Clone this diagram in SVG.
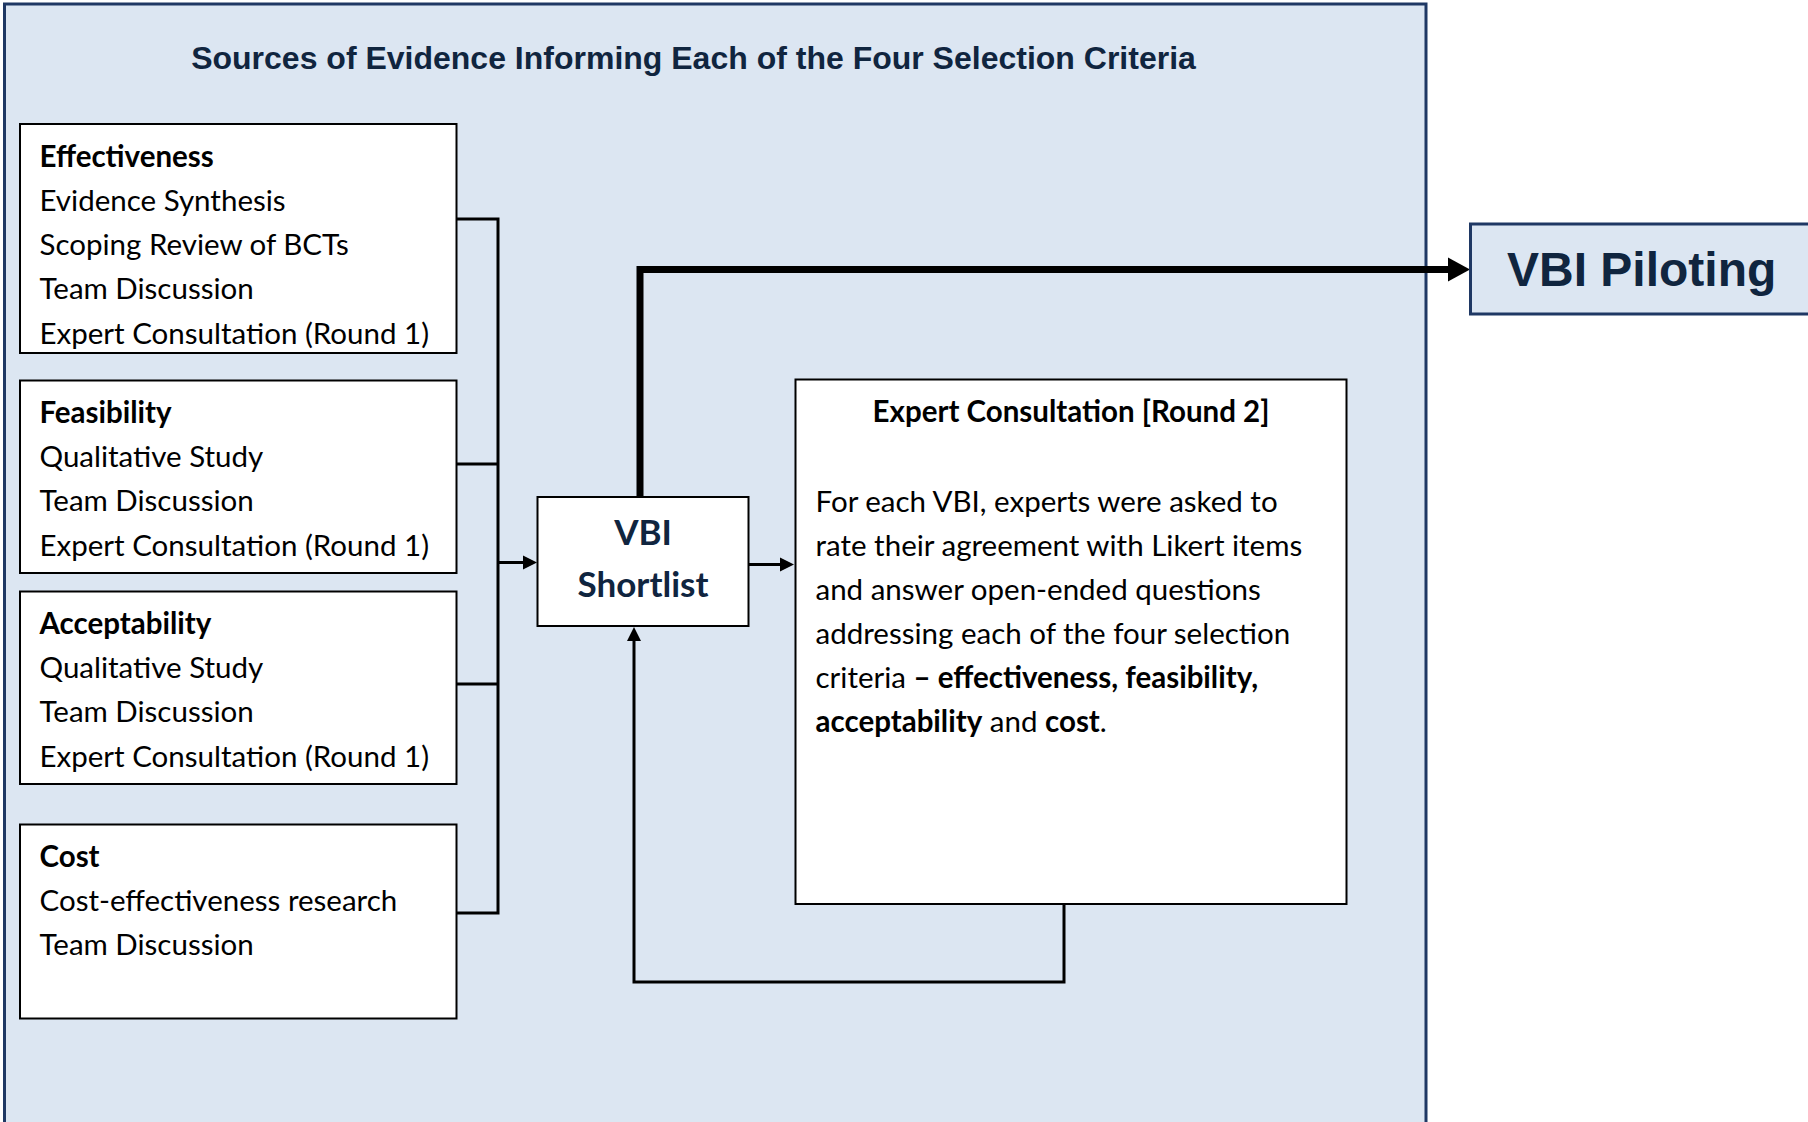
<svg xmlns="http://www.w3.org/2000/svg" width="1808" height="1122" viewBox="0 0 1808 1122">
<defs>
<style>
.panel{fill:#DCE6F2;stroke:#1F3864;stroke-width:3}
.box{fill:#FFFFFF;stroke:#000;stroke-width:2}
.t{font-family:Lato,"Open Sans","Liberation Sans",sans-serif;font-size:29.5px;fill:#000}
.b{font-weight:bold}
.navy{fill:#10253F}
.hd{font-family:"Liberation Sans",Arial,sans-serif;font-weight:bold;fill:#10253F}
.conn{fill:none;stroke:#000;stroke-width:3;stroke-linejoin:miter}
.thick{stroke-width:7}
</style>
<marker id="arr" markerUnits="userSpaceOnUse" markerWidth="14" markerHeight="14" refX="0" refY="7" orient="auto" overflow="visible">
<path d="M0,0 L14,7 L0,14 Z" fill="#000"/>
</marker>
<marker id="arrBig" markerUnits="userSpaceOnUse" markerWidth="22" markerHeight="24" refX="0" refY="12" orient="auto" overflow="visible">
<path d="M0,0 L22,12 L0,24 Z" fill="#000"/>
</marker>
</defs>

<rect class="panel" x="4.5" y="4" width="1421.5" height="1140"/>
<text class="hd" x="693.5" y="69" font-size="32" text-anchor="middle">Sources of Evidence Informing Each of the Four Selection Criteria</text>

<g id="connectors">
<path class="conn" d="M456,219 H498 V913 H456"/>
<path class="conn" d="M456,464 H498"/>
<path class="conn" d="M456,684 H498"/>
<path class="conn" d="M498,562.5 H523" marker-end="url(#arr)"/>
<path class="conn" d="M748,564.5 H780" marker-end="url(#arr)"/>
<path class="conn" d="M1064,904 V982 H634 V641" marker-end="url(#arr)"/>
<path class="conn thick" d="M640,497 V269.5 H1448" marker-end="url(#arrBig)"/>
</g>

<g id="effectiveness">
<rect class="box" x="20" y="124" width="436.5" height="229"/>
<text class="t b" x="39.5" y="167">Effectiveness</text>
<text class="t" x="39.5" y="211">Evidence Synthesis</text>
<text class="t" x="39.5" y="255">Scoping Review of BCTs</text>
<text class="t" x="39.5" y="299">Team Discussion</text>
<text class="t" x="39.5" y="344">Expert Consultation (Round 1)</text>
</g>

<g id="feasibility">
<rect class="box" x="20" y="380.5" width="436.5" height="192.5"/>
<text class="t b" x="39.5" y="423">Feasibility</text>
<text class="t" x="39.5" y="467">Qualitative Study</text>
<text class="t" x="39.5" y="511">Team Discussion</text>
<text class="t" x="39.5" y="556">Expert Consultation (Round 1)</text>
</g>

<g id="acceptability">
<rect class="box" x="20" y="591.5" width="436.5" height="192.5"/>
<text class="t b" x="39.5" y="634">Acceptability</text>
<text class="t" x="39.5" y="678">Qualitative Study</text>
<text class="t" x="39.5" y="722">Team Discussion</text>
<text class="t" x="39.5" y="767">Expert Consultation (Round 1)</text>
</g>

<g id="cost">
<rect class="box" x="20" y="824.5" width="436.5" height="194"/>
<text class="t b" x="39.5" y="867">Cost</text>
<text class="t" x="39.5" y="911">Cost-effectiveness research</text>
<text class="t" x="39.5" y="955">Team Discussion</text>
</g>

<g id="vbi-shortlist">
<rect class="box" x="537.5" y="497" width="211" height="129"/>
<text class="t b navy" x="643" y="545" font-size="35" text-anchor="middle" style="font-size:35px">VBI</text>
<text class="t b navy" x="643" y="597" text-anchor="middle" style="font-size:35px">Shortlist</text>
</g>

<g id="expert-round2">
<rect class="box" x="795.5" y="379.5" width="551" height="524.5"/>
<text class="t b" x="1071" y="422" text-anchor="middle">Expert Consultation [Round 2]</text>
<text class="t" x="815.5" y="512">For each VBI, experts were asked to</text>
<text class="t" x="815.5" y="556">rate their agreement with Likert items</text>
<text class="t" x="815.5" y="600">and answer open-ended questions</text>
<text class="t" x="815.5" y="644">addressing each of the four selection</text>
<text class="t" x="815.5" y="688">criteria <tspan class="b">– effectiveness, feasibility,</tspan></text>
<text class="t" x="815.5" y="732"><tspan class="b">acceptability</tspan> and <tspan class="b">cost</tspan>.</text>
</g>

<g id="vbi-piloting">
<rect x="1470.5" y="224" width="360" height="90" fill="#DCE6F2" stroke="#1F3864" stroke-width="3"/>
<text class="hd" x="1507" y="286" font-size="48">VBI Piloting</text>
</g>
</svg>
